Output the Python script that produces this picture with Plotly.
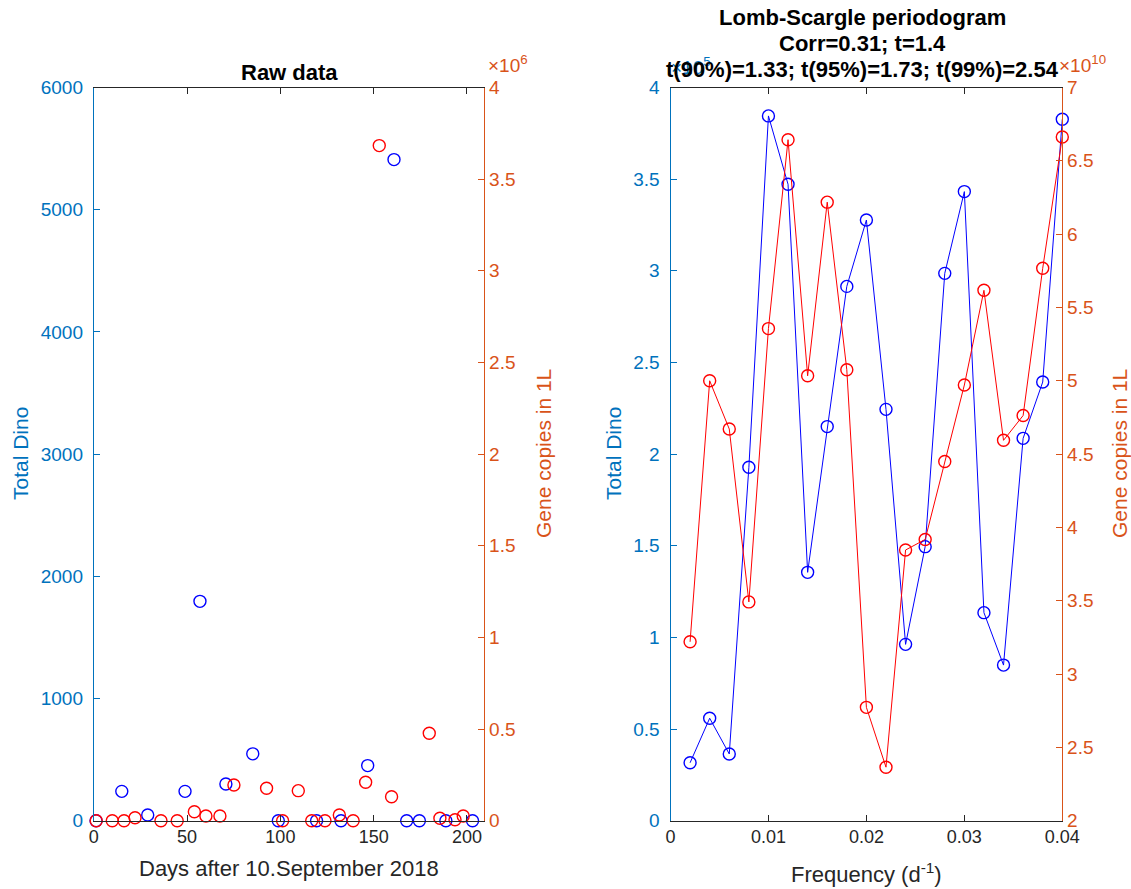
import plotly.graph_objects as go

W, H = 1131, 889

# ---------------- Raw data (left panel) ----------------
dino_days = [1.2, 15, 28.9, 48.9, 56.9, 70.8, 85.2, 98.9, 119.4, 132.5, 146.8, 160.9, 167.7, 174.5, 188.7, 203]
dino_vals = [0, 240, 47, 240, 1795, 300, 547, 0, 0, 0, 451, 5410, 0, 0, 0, 0]

gene_days = [1.3, 9.9, 16.2, 22.1, 36, 44.7, 53.9, 60.1, 67.6, 75.1, 92.6, 101.2, 109.6, 116.8,
             123.9, 131.6, 139, 145.7, 153, 159.6, 179.8, 185.5, 193.6, 198]
gene_vals = [0, 0, 0, 16e3, 0, 0, 49e3, 26e3, 26e3, 195e3, 177e3, 0, 164e3, 0,
             0, 31e3, 0, 210e3, 3.683e6, 131e3, 477e3, 13e3, 5e3, 26e3]

# ---------------- Lomb-Scargle periodogram (right panel) ----------------
freq = [0.002, 0.004, 0.006, 0.008, 0.010, 0.012, 0.014, 0.016, 0.018, 0.020,
        0.022, 0.024, 0.026, 0.028, 0.030, 0.032, 0.034, 0.036, 0.038, 0.040]
# power in axis units (x10^5 for Total Dino, x10^10 for Gene copies)
pow_dino = [0.316, 0.559, 0.364, 1.928, 3.845, 3.472, 1.355, 2.15, 2.915, 3.277,
            2.244, 0.962, 1.495, 2.986, 3.432, 1.135, 0.849, 2.086, 2.393, 3.827]
pow_gene = [3.22, 5.0, 4.671, 3.492, 5.356, 6.644, 5.034, 6.218, 5.075, 2.773,
            2.365, 3.846, 3.918, 4.45, 4.971, 5.617, 4.594, 4.763, 5.767, 6.662]

left_ticks = [0, 1000, 2000, 3000, 4000, 5000, 6000]
gene_ticks = [0, 0.5, 1, 1.5, 2, 2.5, 3, 3.5, 4]
day_ticks = [0, 50, 100, 150, 200]
freq_ticks = [0, 0.01, 0.02, 0.03, 0.04]
pd_ticks = [0, 0.5, 1, 1.5, 2, 2.5, 3, 3.5, 4]
pg_ticks = [2, 2.5, 3, 3.5, 4, 4.5, 5, 5.5, 6, 6.5, 7]

BLUE_AX = "#0072BD"
ORANGE_AX = "#D95319"
DARK = "#262626"
FONT = "Liberation Sans"
XTICK = 18
YTICK = 19

def px(x):
    return x / W

def py(y):
    return 1 - y / H

def lab(v):
    return "%g" % v

fig = go.Figure()

mk = dict(symbol="circle-open", size=12, line=dict(width=1.4))

fig.add_trace(go.Scatter(x=dino_days, y=dino_vals, mode="markers", xaxis="x", yaxis="y",
                         marker=dict(color="blue", **mk), cliponaxis=False, showlegend=False))
fig.add_trace(go.Scatter(x=gene_days, y=gene_vals, mode="markers", xaxis="x", yaxis="y2",
                         marker=dict(color="red", **mk), cliponaxis=False, showlegend=False))
fig.add_trace(go.Scatter(x=freq, y=pow_dino, mode="lines+markers", xaxis="x2", yaxis="y3",
                         line=dict(color="blue", width=1), marker=dict(color="blue", **mk),
                         cliponaxis=False, showlegend=False))
fig.add_trace(go.Scatter(x=freq, y=pow_gene, mode="lines+markers", xaxis="x2", yaxis="y4",
                         line=dict(color="red", width=1), marker=dict(color="red", **mk),
                         cliponaxis=False, showlegend=False))

dom_y = [py(820.7), py(87.5)]
dom_x1 = [px(93.8), px(484.3)]
dom_x2 = [px(670.5), px(1062.3)]

xcommon = dict(showgrid=False, zeroline=False, showline=True, linecolor=DARK, linewidth=1,
               mirror="ticks", ticks="inside", ticklen=6, tickcolor=DARK, automargin=False,
               tickfont=dict(family=FONT, size=XTICK, color=DARK))
ycommon = dict(showgrid=False, zeroline=False, showline=True, linewidth=1,
               ticks="inside", ticklen=6, automargin=False)

fig.update_layout(
    width=W, height=H, margin=dict(l=0, r=0, t=0, b=0, autoexpand=False),
    paper_bgcolor="white", plot_bgcolor="white",
    font=dict(family=FONT),
    xaxis=dict(domain=dom_x1, anchor="y", range=[0, 209.3], tickvals=day_ticks,
               ticktext=[lab(v) for v in day_ticks], **xcommon),
    yaxis=dict(domain=dom_y, anchor="x", range=[0, 6000], tickvals=left_ticks,
               ticktext=[lab(v) for v in left_ticks], linecolor=BLUE_AX, tickcolor=BLUE_AX,
               ticklabelstandoff=6,
               tickfont=dict(family=FONT, size=YTICK, color=BLUE_AX), **ycommon),
    yaxis2=dict(overlaying="y", anchor="x", side="right", range=[0, 4e6],
                tickvals=[v * 1e6 for v in gene_ticks], ticktext=[lab(v) for v in gene_ticks],
                linecolor=ORANGE_AX, tickcolor=ORANGE_AX,
                tickfont=dict(family=FONT, size=YTICK, color=ORANGE_AX), **ycommon),
    xaxis2=dict(domain=dom_x2, anchor="y3", range=[0, 0.04], tickvals=freq_ticks,
                ticktext=[lab(v) for v in freq_ticks], **xcommon),
    yaxis3=dict(domain=dom_y, anchor="x2", range=[0, 4], tickvals=pd_ticks,
                ticktext=[lab(v) for v in pd_ticks], linecolor=BLUE_AX, tickcolor=BLUE_AX,
                ticklabelstandoff=6,
                tickfont=dict(family=FONT, size=YTICK, color=BLUE_AX), **ycommon),
    yaxis4=dict(overlaying="y3", anchor="x2", side="right", range=[2, 7], tickvals=pg_ticks,
                ticktext=[lab(v) for v in pg_ticks], linecolor=ORANGE_AX, tickcolor=ORANGE_AX,
                tickfont=dict(family=FONT, size=YTICK, color=ORANGE_AX), **ycommon),
)

ann = []

def add(text, x, y, size, color, bold=False, angle=0, xanchor="center", yanchor="middle"):
    if bold:
        text = "<b>" + text + "</b>"
    ann.append(dict(text=text, x=px(x), y=py(y), xref="paper", yref="paper", showarrow=False,
                    font=dict(family=FONT, size=size, color=color), textangle=angle,
                    xanchor=xanchor, yanchor=yanchor))

# exponent labels (drawn first so the title lies on top, as in the reference)
add("×10<sup>5</sup>", 669, 66, 19, BLUE_AX, xanchor="left")
add("×10<sup>6</sup>", 486, 64, 19, ORANGE_AX, xanchor="left")
add("×10<sup>10</sup>", 1057, 64, 19, ORANGE_AX, xanchor="left")

# titles
add("Raw data", 289, 72, 22, "black", bold=True)
add("Lomb-Scargle periodogram", 862, 18, 22, "black", bold=True)
add("Corr=0.31; t=1.4", 862, 44, 22, "black", bold=True)
add("t(90%)=1.33; t(95%)=1.73; t(99%)=2.54", 862, 70, 22, "black", bold=True)

# axis labels
add("Days after 10.September 2018", 289, 868, 22, DARK)
add("Frequency (d<sup>-1</sup>)", 866, 873, 22, DARK)
add("Total Dino", 20, 454, 21, BLUE_AX, angle=-90)
add("Gene copies in 1L", 543, 454, 21, ORANGE_AX, angle=-90)
add("Total Dino", 613, 454, 21, BLUE_AX, angle=-90)
add("Gene copies in 1L", 1119, 454, 21, ORANGE_AX, angle=-90)

fig.update_layout(annotations=ann)

fig.write_html("out.html", config={"displayModeBar": False},
               post_script="document.body.style.margin='0px';document.body.style.overflow='hidden';")
